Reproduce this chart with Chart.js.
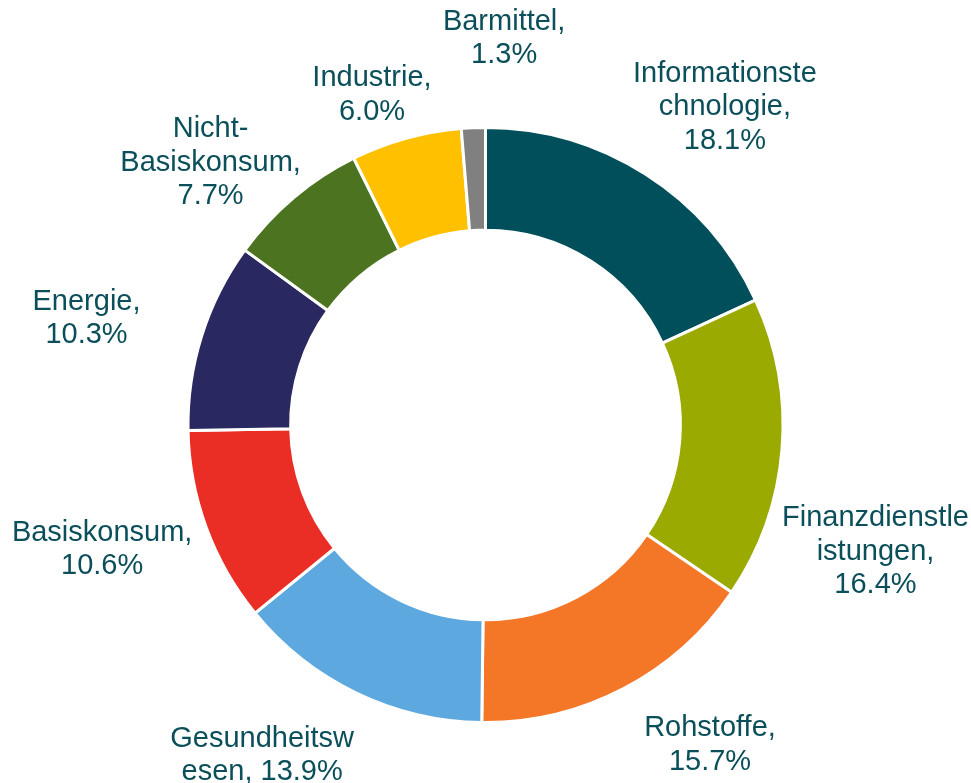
<!DOCTYPE html>
<html>
<head>
<meta charset="utf-8">
<script src="https://cdn.jsdelivr.net/npm/chart.js@4/dist/chart.umd.min.js"></script>
<style>
  html, body { margin: 0; padding: 0; background: #fff; }
  #wrap { width: 971px; height: 783px; }
</style>
</head>
<body>
<div id="wrap"><canvas id="sectorChart"></canvas></div>
<script>
// Sektorgewichtung
const sectors = ['Informationstechnologie', 'Finanzdienstleistungen', 'Rohstoffe', 'Gesundheitswesen',
  'Basiskonsum', 'Energie', 'Nicht-Basiskonsum', 'Industrie', 'Barmittel'];
const weights = [18.1, 16.4, 15.7, 13.9, 10.6, 10.3, 7.7, 6.0, 1.3];
// wie die Beschriftung umbricht ({v} = Wert)
const labelText = [
  'Informationste\nchnologie,\n{v}',
  'Finanzdienstle\nistungen,\n{v}',
  'Rohstoffe,\n{v}',
  'Gesundheitsw\nesen, {v}',
  'Basiskonsum,\n{v}',
  'Energie,\n{v}',
  'Nicht-\nBasiskonsum,\n{v}',
  'Industrie,\n{v}',
  'Barmittel,\n{v}'
];
const sectorColors = ['#004F5B', '#9BAA00', '#F47627', '#5DA9DF', '#EA2E26',
  '#292860', '#4C7420', '#FFC000', '#808080'];

// Verschiebung der Beschriftung: Winkel (Grad) und Abstand vom Mittelpunkt
const labelNudge = [
  [4.4, 398], [13.3, 410], [-7.5, 391], [8.3, 399], [2.2, 403],
  [-2.5, 413], [-6.2, 380], [-3.5, 349], [5.1, 387]
];

const outsideLabels = {
  id: 'outsideLabels',
  afterDraw(chart) {
    const ctx = chart.ctx;
    const meta = chart.getDatasetMeta(0);
    ctx.save();
    ctx.font = '29px "Liberation Sans", Arial, sans-serif';
    ctx.fillStyle = '#0B4F5A';
    ctx.textAlign = 'center';
    ctx.textBaseline = 'middle';
    const lh = 33.5;
    meta.data.forEach(function(arc, i) {
      const mid = (arc.startAngle + arc.endAngle) / 2 + labelNudge[i][0] * Math.PI / 180;
      const d = labelNudge[i][1];
      const cx = arc.x + Math.cos(mid) * d;
      const cy = arc.y + Math.sin(mid) * d;
      const txt = labelText[i].replace('{v}', weights[i].toFixed(1) + '%');
      const lines = txt.split('\n');
      lines.forEach(function(line, j) {
        ctx.fillText(line, cx, cy + (j - (lines.length - 1) / 2) * lh);
      });
    });
    ctx.restore();
  }
};

const sectorChart = new Chart(document.getElementById('sectorChart'), {
  type: 'doughnut',
  data: {
    labels: sectors,
    datasets: [{
      data: weights,
      backgroundColor: sectorColors,
      borderColor: '#ffffff',
      borderWidth: 3
    }]
  },
  options: {
    responsive: true,
    maintainAspectRatio: false,
    animation: false,
    cutout: '65.5%',
    layout: {
      padding: { left: 186, right: 186, top: 126, bottom: 59 }
    },
    plugins: {
      legend: { display: false },
      tooltip: { enabled: false }
    }
  },
  plugins: [outsideLabels]
});
</script>
</body>
</html>
